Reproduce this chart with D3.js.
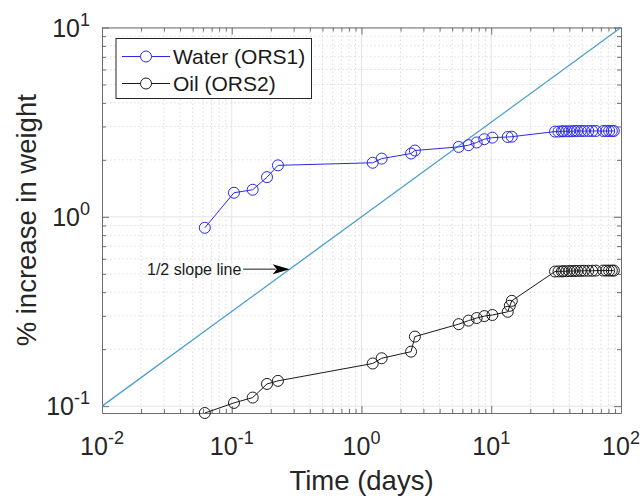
<!DOCTYPE html>
<html>
<head>
<meta charset="utf-8">
<script src="https://cdn.jsdelivr.net/npm/d3@7"></script>
<style>
  html, body { margin: 0; padding: 0; background: #fff; }
  svg { display: block; font-family: "Liberation Sans", Arial, sans-serif; }
</style>
</head>
<body>
<svg id="chart" width="643" height="500"></svg>
<script>
// Immersion time (days) for each weighing
const waterDays = [0.062, 0.104, 0.145, 0.187, 0.227, 1.22, 1.43, 2.41, 2.58, 5.61, 6.68, 7.72, 8.84, 10.2, 13.4, 14.4,
  31, 33, 35, 36, 38, 40, 42, 44, 46, 49, 52, 56, 60, 64, 73, 77, 81, 85, 88];
// % weight gain, water-exposed specimen
const waterGain = [0.875, 1.34, 1.39, 1.62, 1.87, 1.93, 2.03, 2.16, 2.24, 2.34, 2.39, 2.47, 2.57, 2.62, 2.64, 2.65,
  2.82, 2.82, 2.83, 2.83, 2.83, 2.83, 2.83, 2.84, 2.84, 2.84, 2.84, 2.84, 2.84, 2.84, 2.84, 2.84, 2.84, 2.84, 2.84];
const oilDays = [0.062, 0.104, 0.145, 0.187, 0.227, 1.22, 1.43, 2.41, 2.58, 5.61, 6.68, 7.72, 8.84, 10.2, 13.4, 13.9, 14.4,
  31, 33, 35, 36, 38, 40, 42, 44, 46, 49, 52, 56, 60, 64, 73, 77, 81, 85, 88];
// % weight gain, oil-exposed specimen
const oilGain = [0.092, 0.104, 0.111, 0.131, 0.136, 0.168, 0.179, 0.194, 0.233, 0.271, 0.283, 0.292, 0.299, 0.303, 0.315, 0.339, 0.360,
  0.514, 0.515, 0.515, 0.516, 0.516, 0.517, 0.517, 0.518, 0.518, 0.518, 0.519, 0.519, 0.519, 0.52, 0.52, 0.52, 0.52, 0.52, 0.52];
// Reference line with slope 1/2 on log-log axes: y = x^0.5
const slopeDays = [0.01, 100];
const slopeGain = [0.1, 10];
const seriesNames = ["Water (ORS1)", "Oil (ORS2)"];
const xTickExps = [-2, -1, 0, 1, 2];
const yTickExps = [-1, 0, 1];

const svg = d3.select("#chart");
const mLeft = 102, mRight = 621, mTop = 27.5, mBottom = 413;

const x = d3.scaleLog().domain([0.01, 100]).range([mLeft, mRight]);
const y = d3.scaleLog().domain([0.092, 10]).range([mBottom, mTop]);

const blue = "#2a2ae6", black = "#1a1a1a", slopeColor = "#4a9fce", axisColor = "#6e6e6e";

// grid: minor (dotted) then major (solid)
const minorX = [], minorY = [];
for (let e = -2; e < 2; e++) for (let m = 2; m <= 9; m++) minorX.push(m * Math.pow(10, e));
for (let e = -2; e < 1; e++) for (let m = 2; m <= 9; m++) {
  const v = m * Math.pow(10, e);
  if (v > 0.092 && v < 10) minorY.push(v);
}
const grid = svg.append("g");
grid.selectAll(".mx").data(minorX).join("line")
  .attr("x1", d => x(d)).attr("x2", d => x(d)).attr("y1", mTop).attr("y2", mBottom)
  .attr("stroke", "#d4d4d4").attr("stroke-width", 0.8).attr("stroke-dasharray", "1.5,2.5");
grid.selectAll(".my").data(minorY).join("line")
  .attr("y1", d => y(d)).attr("y2", d => y(d)).attr("x1", mLeft).attr("x2", mRight)
  .attr("stroke", "#d4d4d4").attr("stroke-width", 0.8).attr("stroke-dasharray", "1.5,2.5");
grid.selectAll(".Mx").data(xTickExps.slice(1, -1)).join("line")
  .attr("x1", d => x(Math.pow(10, d))).attr("x2", d => x(Math.pow(10, d))).attr("y1", mTop).attr("y2", mBottom)
  .attr("stroke", "#e3e3e3").attr("stroke-width", 1);
grid.selectAll(".My").data(yTickExps).join("line")
  .attr("y1", d => y(Math.pow(10, d))).attr("y2", d => y(Math.pow(10, d))).attr("x1", mLeft).attr("x2", mRight)
  .attr("stroke", "#e3e3e3").attr("stroke-width", 1);

// axes with inward ticks on all four sides
function drawAxis(axisGen, transform) {
  const g = svg.append("g").attr("transform", transform).call(axisGen);
  g.selectAll("text").remove();
  g.select(".domain").attr("stroke", axisColor);
  g.selectAll(".tick line").attr("stroke", axisColor);
  return g;
}
const xMajor = xTickExps.map(e => Math.pow(10, e));
const yMajor = yTickExps.map(e => Math.pow(10, e));
drawAxis(d3.axisBottom(x).tickValues(xMajor.concat(minorX)).tickSizeOuter(0), `translate(0,${mBottom})`)
  .selectAll(".tick line").attr("y2", d => xMajor.includes(d) ? -7 : -4);
drawAxis(d3.axisTop(x).tickValues(xMajor.concat(minorX)).tickSizeOuter(0), `translate(0,${mTop})`)
  .selectAll(".tick line").attr("y2", d => xMajor.includes(d) ? 7 : 4);
drawAxis(d3.axisLeft(y).tickValues(yMajor.concat(minorY)).tickSizeOuter(0), `translate(${mLeft},0)`)
  .selectAll(".tick line").attr("x2", d => yMajor.includes(d) ? 7 : 4);
drawAxis(d3.axisRight(y).tickValues(yMajor.concat(minorY)).tickSizeOuter(0), `translate(${mRight},0)`)
  .selectAll(".tick line").attr("x2", d => yMajor.includes(d) ? -7 : -4);

// tick labels as powers of ten
const xl = svg.append("g").selectAll("text").data(xTickExps).join("text")
  .attr("x", d => x(Math.pow(10, d))).attr("y", 455)
  .attr("text-anchor", "middle").attr("font-size", 25).attr("fill", "#262626");
xl.append("tspan").text("10");
xl.append("tspan").attr("dy", -11).attr("font-size", 18).text(d => d);

const yl = svg.append("g").selectAll("text").data(yTickExps).join("text")
  .attr("x", 90).attr("y", d => y(Math.pow(10, d)) + 9)
  .attr("text-anchor", "end").attr("font-size", 25).attr("fill", "#262626");
yl.append("tspan").text("10");
yl.append("tspan").attr("dy", -11).attr("font-size", 18).text(d => d);

// axis titles
svg.append("text").attr("x", (mLeft + mRight) / 2).attr("y", 490).attr("text-anchor", "middle")
  .attr("font-size", 27.5).attr("fill", "#262626").text("Time (days)");
svg.append("text").attr("transform", `translate(36,${(mTop + mBottom) / 2}) rotate(-90)`)
  .attr("text-anchor", "middle").attr("font-size", 27.5).attr("fill", "#262626").text("% increase in weight");

// half-slope reference line
svg.append("path")
  .datum(slopeDays.map((d, i) => [d, slopeGain[i]]))
  .attr("d", d3.line().x(d => x(d[0])).y(d => y(d[1])))
  .attr("fill", "none").attr("stroke", slopeColor).attr("stroke-width", 1.3);

const line = d3.line().x(d => x(d[0])).y(d => y(d[1]));
function drawSeries(days, gain, color) {
  const pts = days.map((d, i) => [d, gain[i]]);
  svg.append("path").datum(pts).attr("d", line)
    .attr("fill", "none").attr("stroke", color).attr("stroke-width", 1);
  svg.append("g").selectAll("circle").data(pts).join("circle")
    .attr("cx", d => x(d[0])).attr("cy", d => y(d[1])).attr("r", 5.5)
    .attr("fill", "none").attr("stroke", color).attr("stroke-width", 1);
}
drawSeries(waterDays, waterGain, blue);
drawSeries(oilDays, oilGain, black);

// annotation pointing at the reference line
const annX = 0.28, annY = Math.sqrt(0.28);
const tipX = x(annX), tipY = y(annY);
svg.append("text").attr("x", 147).attr("y", tipY + 6).attr("font-size", 16).attr("fill", "#1a1a1a")
  .text("1/2 slope line");
svg.append("line").attr("x1", 243).attr("x2", tipX - 14).attr("y1", tipY).attr("y2", tipY)
  .attr("stroke", "#1a1a1a").attr("stroke-width", 1);
svg.append("path")
  .attr("d", `M${tipX},${tipY} L${tipX - 17},${tipY - 5} L${tipX - 13},${tipY} L${tipX - 17},${tipY + 5} Z`)
  .attr("fill", "#000");

// legend
const lg = svg.append("g");
lg.append("rect").attr("x", 116).attr("y", 38.5).attr("width", 195.5).attr("height", 60)
  .attr("fill", "#fff").attr("stroke", "#262626").attr("stroke-width", 1);
const legendColors = [blue, black];
seriesNames.forEach((name, i) => {
  const cy = 56.5 + i * 27;
  lg.append("line").attr("x1", 122).attr("x2", 170).attr("y1", cy).attr("y2", cy)
    .attr("stroke", legendColors[i]).attr("stroke-width", 1);
  lg.append("circle").attr("cx", 146).attr("cy", cy).attr("r", 5.5)
    .attr("fill", "#fff").attr("stroke", legendColors[i]).attr("stroke-width", 1);
  lg.append("text").attr("x", 173).attr("y", cy + 7.5).attr("font-size", 21).attr("fill", "#1a1a1a").text(name);
});
</script>
</body>
</html>
